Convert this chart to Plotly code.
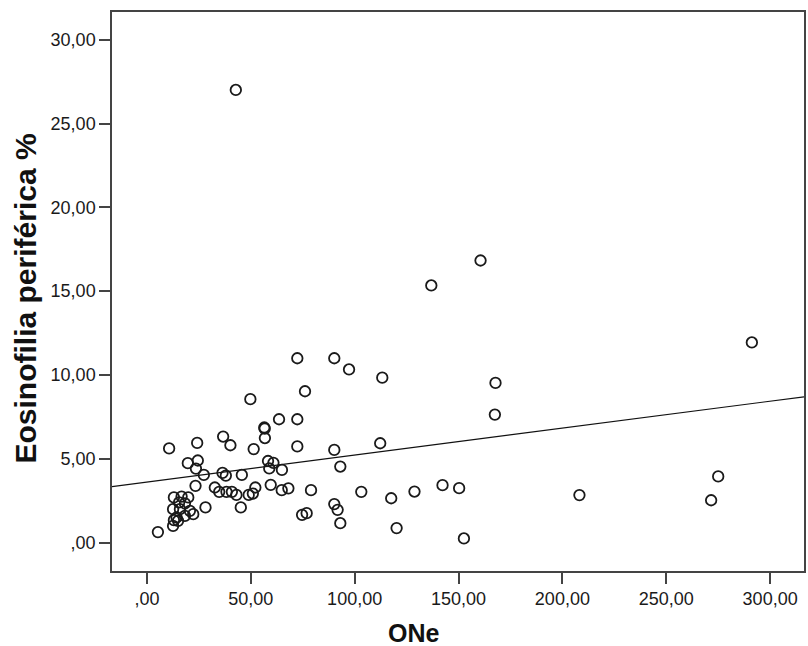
import numpy as np
import plotly.graph_objects as go

# ONe values (x) and peripheral eosinophilia % (y)
one_values = [
    5.3, 10.7, 13.0, 16.7, 19.9, 15.5, 18.3, 12.6, 15.9, 20.7,
    22.3, 14.3, 18.3, 13.0, 15.0, 12.6, 28.2, 24.2, 36.7, 40.2,
    51.4, 19.7, 24.5, 23.6, 27.4, 36.4, 38.0, 45.7, 23.4, 32.7,
    34.8, 38.3, 40.9, 43.1, 49.0, 51.0, 52.2, 45.2, 42.8, 49.8,
    63.6, 72.4, 56.5, 56.7, 56.8, 72.4, 58.3, 60.9, 58.9, 65.0,
    59.6, 64.9, 68.1, 72.4, 90.2, 97.3, 113.3, 76.1, 90.2, 112.3,
    93.1, 79.0, 103.2, 117.6, 128.8, 90.2, 91.8, 74.7, 76.9, 93.1,
    120.2, 160.6, 136.9, 167.8, 167.5, 142.3, 150.3, 152.6, 208.2, 291.2,
    275.0, 271.6,
]
eosinophilia_pct = [
    0.63, 5.62, 2.70, 2.75, 2.70, 2.40, 2.34, 2.00, 2.00, 1.90,
    1.70, 1.50, 1.60, 1.34, 1.30, 1.00, 2.10, 5.95, 6.33, 5.81,
    5.58, 4.74, 4.90, 4.42, 4.04, 4.16, 4.00, 4.04, 3.39, 3.29,
    3.03, 3.03, 3.03, 2.85, 2.85, 2.93, 3.29, 2.10, 27.00, 8.56,
    7.36, 7.36, 6.87, 6.80, 6.24, 5.74, 4.87, 4.76, 4.43, 4.34,
    3.45, 3.13, 3.24, 11.00, 11.00, 10.33, 9.84, 9.03, 5.53, 5.93,
    4.54, 3.13, 3.03, 2.65, 3.05, 2.30, 1.96, 1.66, 1.76, 1.16,
    0.87, 16.83, 15.34, 9.53, 7.64, 3.43, 3.25, 0.25, 2.84, 11.94,
    3.95, 2.53,
]

x_tick_vals = [0, 50, 100, 150, 200, 250, 300]
x_tick_text = [",00", "50,00", "100,00", "150,00", "200,00", "250,00", "300,00"]
y_tick_vals = [0, 5, 10, 15, 20, 25, 30]
y_tick_text = [",00", "5,00", "10,00", "15,00", "20,00", "25,00", "30,00"]

x_range = [-16.8, 316.3]
y_range = [-1.69, 31.65]

# Least-squares fit line across the whole x range
slope, intercept = np.polyfit(one_values, eosinophilia_pct, 1)
fit_x = np.array(x_range)
fit_y = intercept + slope * fit_x

font_family = "Liberation Sans, Arial, sans-serif"

fig = go.Figure()
fig.add_trace(go.Scatter(
    x=fit_x, y=fit_y, mode="lines",
    line=dict(color="#111111", width=1.2),
    hoverinfo="skip", showlegend=False,
))
fig.add_trace(go.Scatter(
    x=one_values, y=eosinophilia_pct, mode="markers",
    marker=dict(symbol="circle-open", size=10.5, color="#1a1a1a",
                line=dict(width=1.8, color="#1a1a1a")),
    showlegend=False,
))

axis_common = dict(
    showgrid=False, zeroline=False,
    showline=True, linecolor="#444444", linewidth=1.5, mirror=True,
    ticks="outside", ticklen=11, tickwidth=1.5, tickcolor="#444444",
    tickfont=dict(family=font_family, size=18, color="#1a1a1a"),
)

fig.update_layout(
    width=808, height=646,
    margin=dict(l=112, r=2, t=12, b=75),
    paper_bgcolor="white", plot_bgcolor="white",
    xaxis=dict(range=x_range, tickvals=x_tick_vals, ticktext=x_tick_text,
               **axis_common),
    yaxis=dict(range=y_range, tickvals=y_tick_vals, ticktext=y_tick_text,
               **axis_common),
    annotations=[
        dict(text="<b>ONe</b>", xref="paper", yref="paper",
             x=0.437, y=0, yshift=-62, xanchor="center", yanchor="middle",
             showarrow=False,
             font=dict(family=font_family, size=25, color="#111111")),
        dict(text="<b>Eosinofilia periférica %</b>", xref="paper", yref="paper",
             x=0, xshift=-87, y=0.4875, xanchor="center", yanchor="middle",
             textangle=-90, showarrow=False,
             font=dict(family=font_family, size=30, color="#111111")),
    ],
)

fig.write_html("out.html")
